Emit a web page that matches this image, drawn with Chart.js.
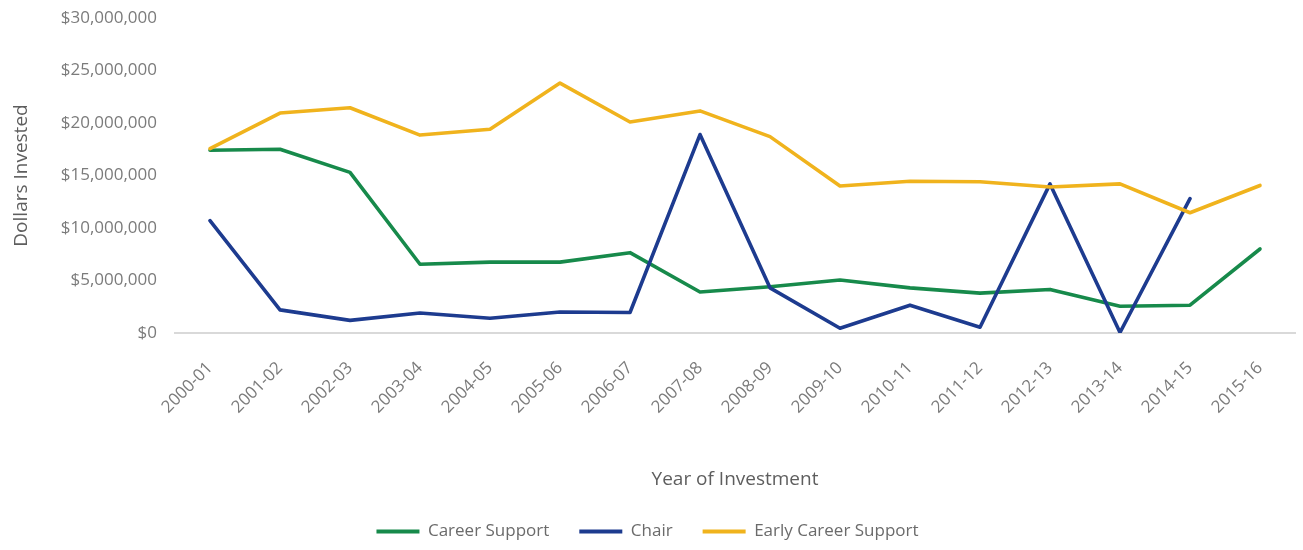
<!DOCTYPE html>
<html>
<head>
<meta charset="utf-8">
<script src="https://cdn.jsdelivr.net/npm/chart.js@4.4.1/dist/chart.umd.min.js"></script>
<style>
  html, body { margin: 0; padding: 0; background: #ffffff; }
  #wrap { position: relative; width: 1303px; height: 550px; }
</style>
</head>
<body>
<div id="wrap"><canvas id="c" width="1303" height="550"></canvas></div>
<script>
const categories = ['2000-01','2001-02','2002-03','2003-04','2004-05','2005-06','2006-07','2007-08',
                    '2008-09','2009-10','2010-11','2011-12','2012-13','2013-14','2014-15','2015-16'];
const careerSupport = [17400000, 17500000, 15300000, 6550000, 6750000, 6750000, 7650000, 3900000,
                       4400000, 5050000, 4300000, 3800000, 4150000, 2550000, 2650000, 8000000];
const chair = [10700000, 2200000, 1200000, 1900000, 1400000, 2000000, 1950000, 18900000,
               4300000, 450000, 2650000, 550000, 14200000, 50000, 12800000, null];
const earlyCareerSupport = [17550000, 20950000, 21450000, 18850000, 19400000, 23800000, 20100000, 21150000,
                            18700000, 14000000, 14450000, 14400000, 13900000, 14200000, 11450000, 14050000];
const yTicks = [0, 5000000, 10000000, 15000000, 20000000, 25000000, 30000000];

const FONT = "'Open Sans', 'Noto Sans', sans-serif";
const GREEN = '#178a4b', BLUE = '#1d3b8f', GOLD = '#f0b31d';

new Chart(document.getElementById('c'), {
  type: 'line',
  data: {
    labels: categories,
    datasets: [
      { label: 'Career Support', data: careerSupport, borderColor: GREEN, backgroundColor: GREEN, order: 2 },
      { label: 'Chair', data: chair, borderColor: BLUE, backgroundColor: BLUE, order: 1 },
      { label: 'Early Career Support', data: earlyCareerSupport, borderColor: GOLD, backgroundColor: GOLD, order: 0 }
    ]
  },
  options: {
    responsive: false,
    animation: false,
    devicePixelRatio: 1,
    layout: { padding: { top: 18, right: 8, bottom: 0, left: 0 } },
    elements: {
      line: { borderWidth: 3.6, tension: 0, borderCapStyle: 'round', borderJoinStyle: 'round', fill: false },
      point: { radius: 0, hoverRadius: 0 }
    },
    plugins: {
      tooltip: { enabled: false },
      legend: {
        position: 'bottom',
        labels: {
          font: { family: FONT, size: 17 },
          color: '#6b6b6b',
          boxWidth: 43,
          boxHeight: 4,
          padding: 30,
          sort: (a, b) => a.datasetIndex - b.datasetIndex,
          generateLabels(chart) {
            const items = Chart.defaults.plugins.legend.labels.generateLabels(chart);
            return items.map(it => Object.assign(it, { lineWidth: 0, fillStyle: it.strokeStyle }));
          }
        }
      }
    },
    scales: {
      x: {
        offset: true,
        grid: { display: false, drawTicks: false },
        border: { display: true, color: '#d9d9d9', width: 2 },
        ticks: {
          autoSkip: false, maxRotation: 45, minRotation: 45, padding: 25,
          font: { family: FONT, size: 17 }, color: '#7b7b7b'
        },
        title: {
          display: true, text: 'Year of Investment',
          font: { family: FONT, size: 19 }, color: '#5e5e5e',
          padding: { top: 0, bottom: 2 }
        },
        afterFit(scale) { scale.height = 160; scale.paddingTop = 0; }
      },
      y: {
        min: 0, max: 30000000,
        afterBuildTicks(scale) { scale.ticks = yTicks.map(v => ({ value: v })); },
        grid: { display: false, drawTicks: false },
        border: { display: false },
        ticks: {
          padding: 18,
          font: { family: FONT, size: 17 }, color: '#7b7b7b',
          callback: (v) => '$' + Number(v).toLocaleString('en-US')
        },
        title: {
          display: true, text: 'Dollars Invested',
          font: { family: FONT, size: 19 }, color: '#5e5e5e',
          padding: { top: 10, bottom: 0 }
        },
        afterFit(scale) { scale.width = 175; scale.paddingTop = 0; scale.paddingBottom = 0; }
      }
    }
  }
});
</script>
</body>
</html>
